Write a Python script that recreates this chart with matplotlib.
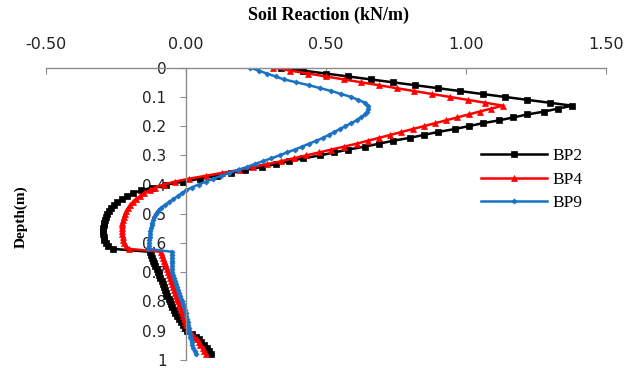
import matplotlib
matplotlib.use("Agg")
import matplotlib.pyplot as plt
import numpy as np

plt.rcParams["font.family"] = ["DejaVu Sans"]

# depth grid (m), one reading every 0.01 m
depth = np.round(np.arange(0.0, 0.985, 0.01), 2)

bp2 = [
    0.34, 0.42, 0.50, 0.58, 0.66, 0.74, 0.82, 0.90, 0.98, 1.06,
    1.14, 1.22, 1.30, 1.38, 1.33, 1.28, 1.22, 1.17, 1.12, 1.06,
    1.01, 0.96, 0.90, 0.85, 0.80, 0.74, 0.69, 0.64, 0.58, 0.53,
    0.48, 0.42, 0.37, 0.32, 0.27, 0.21, 0.16, 0.11, 0.05, -0.01,
    -0.07, -0.12, -0.16, -0.19, -0.21, -0.23, -0.245, -0.257, -0.267, -0.275,
    -0.281, -0.286, -0.29, -0.292, -0.294, -0.295, -0.295, -0.295, -0.294, -0.292,
    -0.287, -0.277, -0.26, -0.13, -0.126, -0.121, -0.117, -0.113, -0.109, -0.104,
    -0.10, -0.096, -0.091, -0.087, -0.083, -0.079, -0.074, -0.07, -0.066, -0.061,
    -0.057, -0.053, -0.049, -0.044, -0.04, -0.032, -0.025, -0.017, -0.01, -0.002,
    0.005, 0.02, 0.035, 0.045, 0.055, 0.065, 0.075, 0.083, 0.09,
]

bp4 = [
    0.31, 0.373, 0.437, 0.50, 0.563, 0.627, 0.69, 0.753, 0.816, 0.88,
    0.943, 1.006, 1.07, 1.133, 1.09, 1.05, 1.01, 0.97, 0.93, 0.89,
    0.85, 0.81, 0.77, 0.73, 0.69, 0.65, 0.61, 0.565, 0.52, 0.475,
    0.43, 0.385, 0.34, 0.29, 0.24, 0.19, 0.13, 0.07, 0.01, -0.04,
    -0.08, -0.11, -0.13, -0.15, -0.165, -0.18, -0.19, -0.20, -0.207, -0.213,
    -0.218, -0.222, -0.225, -0.227, -0.228, -0.228, -0.228, -0.227, -0.226, -0.224,
    -0.22, -0.215, -0.205, -0.09, -0.086, -0.083, -0.079, -0.075, -0.072, -0.068,
    -0.064, -0.061, -0.057, -0.053, -0.05, -0.046, -0.042, -0.039, -0.035, -0.031,
    -0.028, -0.024, -0.02, -0.017, -0.013, -0.009, -0.006, -0.002, 0.002, 0.006,
    0.01, 0.02, 0.03, 0.038, 0.045, 0.052, 0.06, 0.066, 0.07,
]

bp9 = [
    0.23, 0.26, 0.29, 0.32, 0.35, 0.395, 0.44, 0.48, 0.52, 0.555,
    0.59, 0.615, 0.64, 0.65, 0.652, 0.648, 0.64, 0.625, 0.61, 0.59,
    0.57, 0.55, 0.53, 0.51, 0.49, 0.465, 0.44, 0.415, 0.39, 0.36,
    0.335, 0.305, 0.275, 0.245, 0.217, 0.185, 0.155, 0.125, 0.098, 0.07,
    0.045, 0.02, 0.0, -0.015, -0.03, -0.045, -0.06, -0.075, -0.09, -0.10,
    -0.108, -0.113, -0.117, -0.12, -0.123, -0.125, -0.127, -0.129, -0.13, -0.131,
    -0.132, -0.133, -0.135, -0.05, -0.05, -0.05, -0.05, -0.05, -0.05, -0.05,
    -0.05, -0.046, -0.043, -0.039, -0.036, -0.032, -0.029, -0.025, -0.021, -0.018,
    -0.014, -0.011, -0.007, -0.004, 0.0, 0.002, 0.004, 0.006, 0.008, 0.01,
    0.012, 0.014, 0.016, 0.018, 0.02, 0.022, 0.026, 0.031, 0.037,
]

x_ticks = [-0.5, 0.0, 0.5, 1.0, 1.5]
y_ticks = [0, 0.1, 0.2, 0.3, 0.4, 0.5, 0.6, 0.7, 0.8, 0.9, 1]
y_ticklabels = ["0", "0.1", "0.2", "0.3", "0.4", "0.5", "0.6", "0.7", "0.8", "0.9", "1"]

series = [
    ("BP2", bp2, "#000000", "s", 4.0),
    ("BP4", bp4, "#ff0000", "^", 4.0),
    ("BP9", bp9, "#1a72c4", "D", 2.6),
]

fig = plt.figure(figsize=(6.29, 3.68), dpi=100)
ax = fig.add_axes([0.0731, 0.022, 0.890, 0.794])

for name, vals, color, marker, ms in series:
    ax.plot(vals, depth, color=color, lw=1.8, marker=marker, ms=ms,
            markeredgewidth=0.5, label=name)

ax.set_xlim(-0.5, 1.5)
ax.set_ylim(1.0, 0.0)

ax.xaxis.tick_top()
ax.set_xticks(x_ticks)
ax.set_xticklabels([f"{v:.2f}" for v in x_ticks])
ax.set_yticks(y_ticks)
ax.set_yticklabels(y_ticklabels)

ax.spines["bottom"].set_visible(False)
ax.spines["right"].set_visible(False)
ax.spines["left"].set_position(("data", 0))
for s in ("top", "left"):
    ax.spines[s].set_color("#8c8c8c")
    ax.spines[s].set_linewidth(1.0)

ax.tick_params(axis="x", direction="in", length=4, pad=11, labelsize=11.5,
               color="#8c8c8c", labelcolor="#222222")
ax.tick_params(axis="y", direction="out", length=4, pad=10, labelsize=11,
               color="#8c8c8c", labelcolor="#222222")

fig.text(0.523, 0.958, "Soil Reaction (kN/m)", ha="center", va="center",
         fontsize=13, fontweight="bold", family="Liberation Serif")
fig.text(0.033, 0.41, "Depth(m)", ha="center", va="center", rotation=90,
         fontsize=11, fontweight="bold", family="Liberation Serif")

ax.legend(loc="upper left", bbox_to_anchor=(0.74, 0.64), bbox_transform=fig.transFigure,
          frameon=False, numpoints=1, handlelength=3.8, handletextpad=0.3,
          labelspacing=0.42, prop={"family": "Liberation Serif", "size": 12.5})

fig.savefig("out.png", dpi=100)
